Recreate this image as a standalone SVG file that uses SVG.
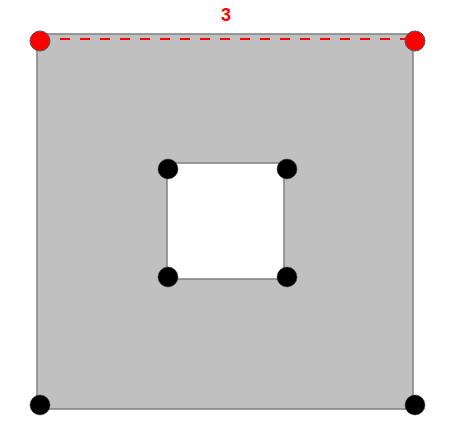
<svg xmlns="http://www.w3.org/2000/svg" width="452" height="439" viewBox="0 0 452 439">
<style>
.shape{fill:#c0c0c0;stroke:#808080;stroke-width:1.5;fill-rule:evenodd}
.pt{fill:#000;stroke:#333;stroke-width:0.5}
.red{fill:#ff0000;stroke:#555;stroke-width:1}
.lbl{font-family:"Liberation Sans",Arial,sans-serif;font-weight:bold;font-size:18px;fill:#ff0000;text-anchor:middle}
</style>
<g id="shape">
<path class="shape" d="M37,34 L413,34 L413,409 L37,409 Z M167,163 L167,279 L284,279 L284,163 Z"/>
</g>
<g id="connectors">
<line x1="40" y1="39" x2="415" y2="39" stroke="#ff0000" stroke-width="2" stroke-dasharray="10,10"/>
</g>
<g id="label"><text class="lbl" x="226" y="21">3</text></g>
<g id="p1"><circle class="red" cx="40" cy="41" r="10"/></g>
<g id="p2"><circle class="red" cx="415" cy="41" r="10"/></g>
<g id="p3"><circle class="pt" cx="40" cy="405" r="10"/></g>
<g id="p4"><circle class="pt" cx="415" cy="405" r="10"/></g>
<g id="p5"><circle class="pt" cx="168" cy="169" r="10"/></g>
<g id="p6"><circle class="pt" cx="287" cy="169" r="10"/></g>
<g id="p7"><circle class="pt" cx="168" cy="277" r="10"/></g>
<g id="p8"><circle class="pt" cx="287" cy="277" r="10"/></g>
</svg>
